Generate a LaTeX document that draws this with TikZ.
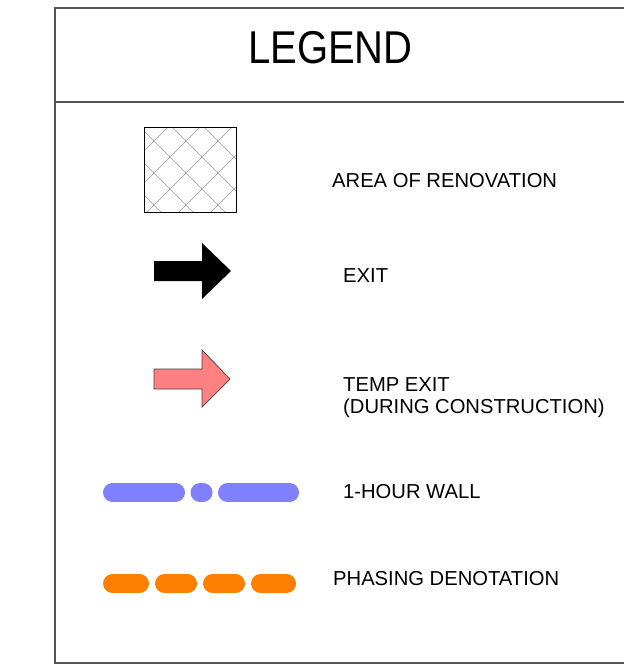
\documentclass[tikz,border=0pt]{standalone}
\usepackage{fontspec}
\setmainfont{Liberation Sans}
\newfontfamily\titlefont[FakeStretch=0.87]{Liberation Sans}
\definecolor{wallblue}{HTML}{8080FF}
\definecolor{phaseorange}{HTML}{FF8000}
\definecolor{temppink}{HTML}{FF8080}
\definecolor{framegray}{HTML}{555555}
\begin{document}
\begin{tikzpicture}[x=1pt,y=-1pt,
  frameline/.style={draw=framegray,line width=1.2pt},
  lbl/.style={anchor=base west,inner sep=0pt,font=\fontsize{20.2}{24}\selectfont},
  wallseg/.style={draw=wallblue,line width=19pt,line cap=round},
  phaseseg/.style={draw=phaseorange,line width=19pt,line cap=round},
  hatchline/.style={draw=gray!80,line width=0.6pt}]
\useasboundingbox (0,0) rectangle (623,668);
\fill[white] (0,0) rectangle (623,668);
% frame
\draw[frameline] (630,8) -- (55,8) -- (55,663) -- (630,663);
\draw[frameline] (55,102) -- (630,102);
\node[anchor=base,inner sep=0pt,font=\titlefont\fontsize{46}{52}\selectfont] (title) at (330.5,63.5) {LEGEND};
% hatch box
\begin{scope}
  \clip (144,127) rectangle (236,212);
  \foreach \k in {-6,...,6} {
    \draw[hatchline] ({13+32*\k+127},127) -- ({13+32*\k+212},212);
    \draw[hatchline] ({327+32*\k-127},127) -- ({327+32*\k-212},212);
  }
\end{scope}
\draw[line width=0.9pt,black] (144,127) rectangle (236,212);
\node[lbl] (area) at (332,188) {AREA OF RENOVATION};
% exit arrow
\fill[black] (154,261) -- (202,261) -- (202,243) -- (231,271) -- (202,299) -- (202,281) -- (154,281) -- cycle;
\node[lbl] (exit) at (343,282) {EXIT};
% temp exit arrow
\draw[fill=temppink,draw=black!75,line width=0.7pt] (154,369) -- (202,369) -- (202,350) -- (230,379) -- (202,407) -- (202,389) -- (154,389) -- cycle;
\node[lbl] (temp1) at (343,391) {TEMP EXIT};
\node[lbl] (temp2) at (343,413) {(DURING CONSTRUCTION)};
% 1-hour wall
\draw[wallseg] (112.5,492.5) -- (175.5,492.5);
\draw[wallseg] (200,492.5) -- (203,492.5);
\draw[wallseg] (227.5,492.5) -- (289.5,492.5);
\node[lbl] (wall) at (343,498) {1-HOUR WALL};
% phasing
\draw[phaseseg] (112.5,583.5) -- (139.5,583.5);
\draw[phaseseg] (164.5,583.5) -- (187.5,583.5);
\draw[phaseseg] (212.5,583.5) -- (235.5,583.5);
\draw[phaseseg] (260.5,583.5) -- (286.5,583.5);
\node[lbl] (phase) at (333,585) {PHASING DENOTATION};
\end{tikzpicture}
\end{document}
